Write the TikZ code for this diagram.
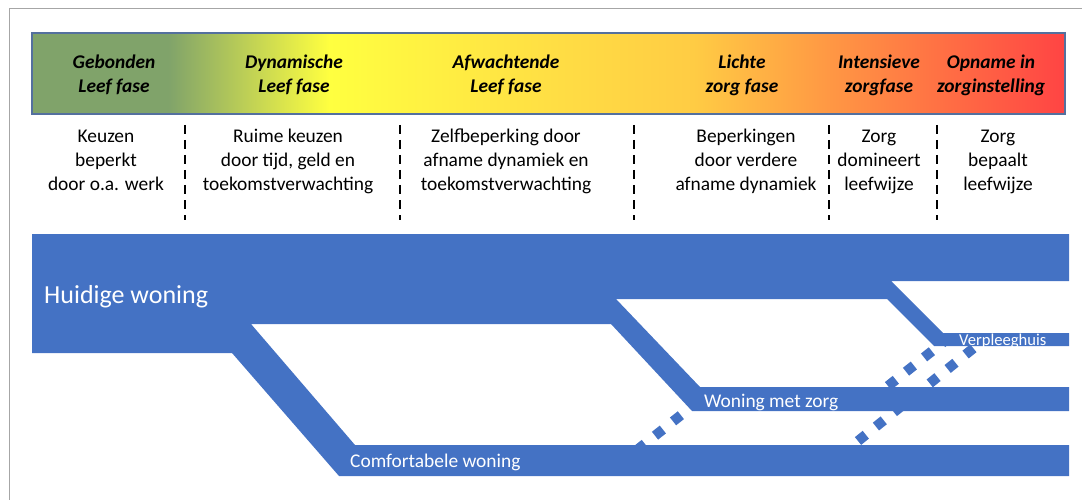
\documentclass[tikz,border=0pt]{standalone}
\usepackage{fontspec}
\setmainfont{Carlito}
\definecolor{bandblue}{RGB}{68,114,196}
\definecolor{framegray}{RGB}{166,166,166}
\definecolor{barline}{RGB}{84,112,158}
\definecolor{phgreen}{RGB}{128,163,106}
\definecolor{phyellow}{RGB}{255,255,64}
\definecolor{phgold}{RGB}{255,221,68}
\definecolor{phamber}{RGB}{255,204,68}
\definecolor{phorange}{RGB}{255,153,68}
\definecolor{phcoral}{RGB}{255,106,68}
\definecolor{phred}{RGB}{255,68,68}
\pgfdeclarehorizontalshading{phasebar}{100bp}{color(0bp)=(phgreen); color(25bp)=(phgreen); color(31.6bp)=(phgreen); color(39.4bp)=(phyellow); color(50.6bp)=(phgold); color(57bp)=(phamber); color(63.4bp)=(phorange); color(69.8bp)=(phcoral); color(75bp)=(phred); color(100bp)=(phred)}
\tikzset{
  phasetitle/.style={font=\fontsize{19.4}{24}\selectfont\bfseries\itshape, align=center, inner sep=0pt, anchor=north},
  phasetext/.style={font=\fontsize{19.4}{24}\selectfont, align=center, inner sep=0pt, anchor=north},
  bandlabel/.style={text=white, inner sep=0pt, anchor=base west, font=\fontsize{19.4}{24}\selectfont},
  sepline/.style={line width=1.8pt, dash pattern=on 9pt off 6pt},
  dotline/.style={bandblue, line width=10pt, dash pattern=on 10pt off 13pt}
}
\begin{document}
\begin{tikzpicture}[x=1pt, y=-1pt]
		\useasboundingbox (0,0) rectangle (1082,500);
		\draw[framegray, line width=1.2pt] (9.5,8.7) rectangle (1100,520);
		% phase bar
		\shade[shading=phasebar] (32,33) rectangle (1065,114);
		\draw[barline, line width=1.2pt] (32,33) rectangle (1065,114);
		\node[phasetitle] (gebonden) at (114,51.2) {\strut Gebonden\\Leef fase};
		\node[phasetitle] (dynamisch) at (294,51.2) {\strut Dynamische\\Leef fase};
		\node[phasetitle] (afwachtend) at (506,51.2) {\strut Afwachtende\\Leef fase};
		\node[phasetitle] (lichtezorg) at (742,51.2) {\strut Lichte\\zorg fase};
		\node[phasetitle] (intensief) at (879,51.2) {\strut Intensieve\\zorgfase};
		\node[phasetitle] (opname) at (991,51.2) {\strut Opname in\\zorginstelling};
		% phase descriptions
		\node[phasetext] (keuzen) at (106,125.2) {\strut Keuzen\\beperkt\\door o.a. werk};
		\node[phasetext] (ruime) at (288,125.2) {\strut Ruime keuzen\\door tijd, geld en\\toekomstverwachting};
		\node[phasetext] (zelfbep) at (506,125.2) {\strut Zelfbeperking door\\afname dynamiek en\\toekomstverwachting};
		\node[phasetext] (beperk) at (746,125.2) {\strut Beperkingen\\door verdere\\afname dynamiek};
		\node[phasetext] (domineert) at (879,125.2) {\strut Zorg\\domineert\\leefwijze};
		\node[phasetext] (bepaalt) at (998,125.2) {\strut Zorg\\bepaalt\\leefwijze};
		\foreach \x in {185,400,634,829,937}
			\draw[sepline] (\x,125) -- (\x,220);
		% dotted moves between the housing bands
		\draw[dotline] (637,450) -- (700,400);
		\draw[dotline] (858,441) -- (975,347);
		\draw[dotline] (888,386) -- (946,340);
		% housing bands
		\fill[bandblue] (32,234) -- (1069,234) -- (1069,281) -- (891,281) -- (943,333) -- (1069,333) -- (1069,346) -- (934,346) -- (887,299) -- (616,299) -- (700,387) -- (1069,387) -- (1069,411) -- (692,411) -- (611,324) -- (251,324) -- (355,445) -- (1069,445) -- (1069,476) -- (339,476) -- (232,353) -- (32,353) -- cycle;
		\node[bandlabel, font=\fontsize{26}{30}\selectfont] (huidige) at (44,303) {Huidige woning};
		\node[bandlabel] (comfort) at (350,467) {Comfortabele woning};
		\node[bandlabel] (zorgwoning) at (704,407) {Woning met zorg};
		\node[bandlabel, font=\fontsize{16.6}{20}\selectfont] (verpleeg) at (959,345) {Verpleeghuis};
\end{tikzpicture}
\end{document}
